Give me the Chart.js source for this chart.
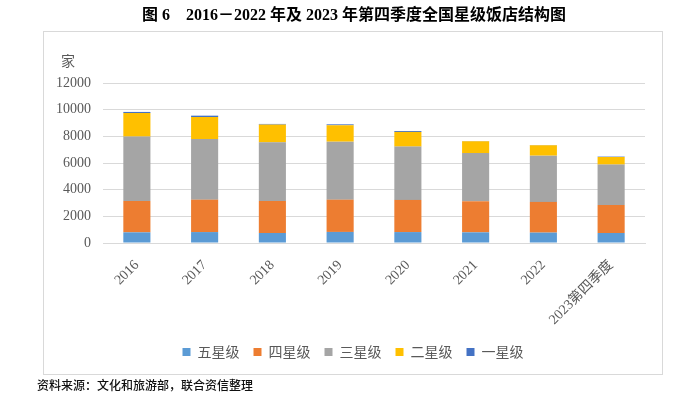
<!DOCTYPE html>
<html><head><meta charset="utf-8">
<script src="https://cdn.jsdelivr.net/npm/chart.js@4"></script>
<style>html,body{margin:0;padding:0;background:#fff;}#wrap{width:700px;height:396px;position:relative;}</style>
</head><body><div id="wrap"><canvas id="c" width="700" height="396"></canvas></div>
<script>
const categories = ['2016','2017','2018','2019','2020','2021','2022','2023第四季度'];
const fiveStar  = [800, 820, 750, 830, 820, 800, 780, 750];
const fourStar  = [2350, 2430, 2400, 2420, 2410, 2330, 2300, 2100];
const threeStar = [4830, 4550, 4400, 4350, 4000, 3620, 3470, 3030];
const twoStar   = [1770, 1650, 1330, 1230, 1100, 880, 780, 570];
const oneStar   = [80, 100, 50, 70, 70, 20, 20, 30];
const seriesNames = ['五星级','四星级','三星级','二星级','一星级'];
const yTicks = [0, 2000, 4000, 6000, 8000, 10000, 12000];
const titleText = '图 6　2016－2022 年及 2023 年第四季度全国星级饭店结构图';
const sourceText = '资料来源：文化和旅游部，联合资信整理';
const unitText = '家';

const colors = ['#5B9BD5','#ED7D31','#A5A5A5','#FFC000','#4472C4'];
const seriesData = [fiveStar, fourStar, threeStar, twoStar, oneStar];

const decor = {
  id: 'decor',
  beforeDraw(chart) {
    const ctx = chart.ctx;
    ctx.save();
    ctx.fillStyle = '#fff';
    ctx.fillRect(0, 0, chart.width, chart.height);
    ctx.strokeStyle = '#d9d9d9';
    ctx.lineWidth = 1;
    ctx.strokeRect(43.5, 31.5, 619, 343);
    ctx.restore();
  },
  afterDraw(chart) {
    const ctx = chart.ctx;
    ctx.save();
    ctx.fillStyle = '#000';
    ctx.font = 'bold 16px "Liberation Serif", "Noto Sans CJK SC"';
    ctx.textAlign = 'center';
    ctx.textBaseline = 'middle';
    ctx.fillText(titleText, 354, 16);
    ctx.fillStyle = '#595959';
    ctx.font = '14px "Noto Sans CJK SC"';
    ctx.fillText(unitText, 68, 61);
    ctx.fillStyle = '#111';
    ctx.font = '500 12px "Noto Sans CJK SC"';
    ctx.textAlign = 'left';
    ctx.fillText(sourceText, 37, 385);
    ctx.restore();
  }
};

new Chart(document.getElementById('c'), {
  type: 'bar',
  data: {
    labels: categories,
    datasets: seriesData.map((d, i) => ({
      label: seriesNames[i],
      data: d,
      backgroundColor: colors[i],
      borderWidth: 0,
      categoryPercentage: 0.8,
      barPercentage: 0.5
    }))
  },
  options: {
    responsive: false,
    animation: false,
    devicePixelRatio: 1,
    layout: { padding: { top: 83, left: 43, right: 37, bottom: 27 } },
    plugins: {
      legend: {
        position: 'bottom',
        labels: {
          boxWidth: 8, boxHeight: 8, padding: 14,
          color: '#595959',
          font: { size: 14, family: '"Noto Sans CJK SC"' }
        }
      },
      tooltip: { enabled: false }
    },
    scales: {
      x: {
        stacked: true,
        grid: { display: false },
        border: { color: '#d9d9d9' },
        ticks: {
          minRotation: 45, maxRotation: 45, padding: 6,
          color: '#595959',
          font: { size: 14, family: '"Liberation Serif", "Noto Sans CJK SC"' }
        },
        afterFit(s) { s.height = 88; }
      },
      y: {
        stacked: true,
        min: 0, max: 12000,
        afterBuildTicks(s) { s.ticks = yTicks.map(v => ({ value: v })); },
        grid: { color: '#d9d9d9', drawTicks: false },
        border: { display: false },
        ticks: {
          padding: 12,
          color: '#595959',
          font: { size: 14, family: '"Liberation Serif"' },
          callback: (v) => String(v)
        },
        afterFit(s) { s.width = 60; }
      },
      yRight: {
        position: 'right',
        display: true,
        grid: { display: false, drawTicks: false },
        border: { display: false },
        ticks: { display: false },
        afterFit(s) { s.width = 18; }
      }
    }
  },
  plugins: [decor]
});
</script></body></html>
